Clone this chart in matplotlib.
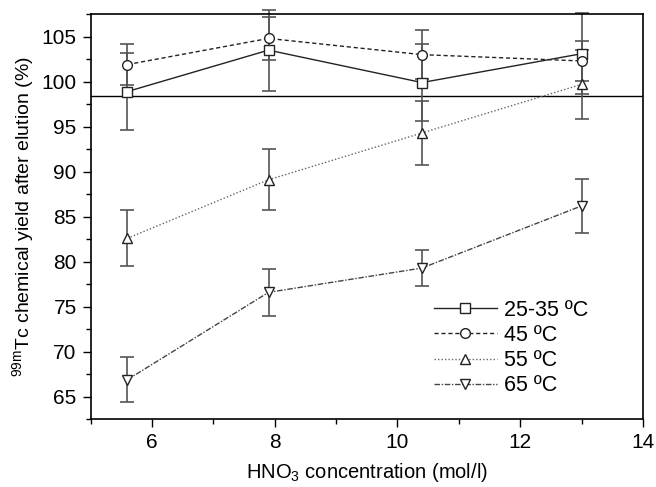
import matplotlib
matplotlib.use("Agg")
import matplotlib.pyplot as plt
from matplotlib.ticker import MultipleLocator

plt.rcParams['font.family'] = ['Liberation Sans', 'DejaVu Sans']
plt.rcParams['mathtext.fontset'] = 'custom'
plt.rcParams['mathtext.rm'] = 'Liberation Sans'
plt.rcParams['mathtext.it'] = 'Liberation Sans:italic'

# Data
hno3 = [5.6, 7.9, 10.4, 13.0]
y_25_35 = [98.9, 103.5, 99.9, 103.1]
e_25_35 = [4.3, 4.5, 4.3, 4.5]
y_45 = [101.9, 104.8, 103.0, 102.3]
e_45 = [2.3, 2.4, 2.7, 2.2]
y_55 = [82.6, 89.1, 94.3, 99.7]
e_55 = [3.1, 3.4, 3.6, 3.8]
y_65 = [66.9, 76.6, 79.3, 86.2]
e_65 = [2.5, 2.6, 2.0, 3.0]
labels = ['25-35 ºC', '45 ºC', '55 ºC', '65 ºC']
ref_line = 98.45

fig = plt.figure(figsize=(6.56, 4.87), dpi=100)
ax = fig.add_axes([0.138, 0.139, 0.842, 0.832])

series = [
    (y_25_35, e_25_35, 's', dict(linestyle='-', color='#222222')),
    (y_45, e_45, 'o', dict(linestyle=(0, (3, 2)), color='#222222')),
    (y_55, e_55, '^', dict(linestyle=(0, (1, 1.5)), color='#666666')),
    (y_65, e_65, 'v', dict(linestyle=(0, (4, 1.2, 1, 1.2)), color='#444444')),
]

ax.axhline(ref_line, color='black', lw=1.0, zorder=1)

handles = []
for (yv, ev, mk, ls), lab in zip(series, labels):
    eb = ax.errorbar(hno3, yv, yerr=ev, fmt='none', ecolor='#555555',
                     elinewidth=1.2, capsize=5, capthick=1.2, zorder=2)
    for art in list(eb.lines[1]) + list(eb.lines[2]):
        art.set_clip_on(False)
    h, = ax.plot(hno3, yv, marker=mk, markersize=7, markerfacecolor='white',
                 markeredgecolor='#222222', markeredgewidth=1.0, lw=1.0,
                 zorder=3, label=lab, **ls)
    handles.append(h)

ax.set_xlim(5, 14)
ax.set_ylim(62.5, 107.5)
ax.xaxis.set_minor_locator(MultipleLocator(1))
ax.yaxis.set_minor_locator(MultipleLocator(2.5))
ax.set_xticks([6, 8, 10, 12, 14])
ax.set_yticks([65, 70, 75, 80, 85, 90, 95, 100, 105])
ax.tick_params(which='major', direction='out', length=6, width=1.0, labelsize=15, pad=4)
ax.tick_params(which='minor', direction='out', length=3.5, width=1.0)
ax.tick_params(top=False, right=False)
for sp in ax.spines.values():
    sp.set_linewidth(1.2)

ax.set_xlabel(r'HNO$_{3}$ concentration (mol/l)', fontsize=14.5, labelpad=6)
ax.set_ylabel(r'$^{\mathrm{99m}}$Tc chemical yield after elution (%)', fontsize=14, labelpad=4)

leg = ax.legend(handles=handles, loc='center left', bbox_to_anchor=(0.622, 0.176),
                frameon=False, fontsize=15.5, handlelength=2.9, handletextpad=0.35,
                labelspacing=0.2, borderpad=0, borderaxespad=0)

fig.savefig('out.png', dpi=100)
